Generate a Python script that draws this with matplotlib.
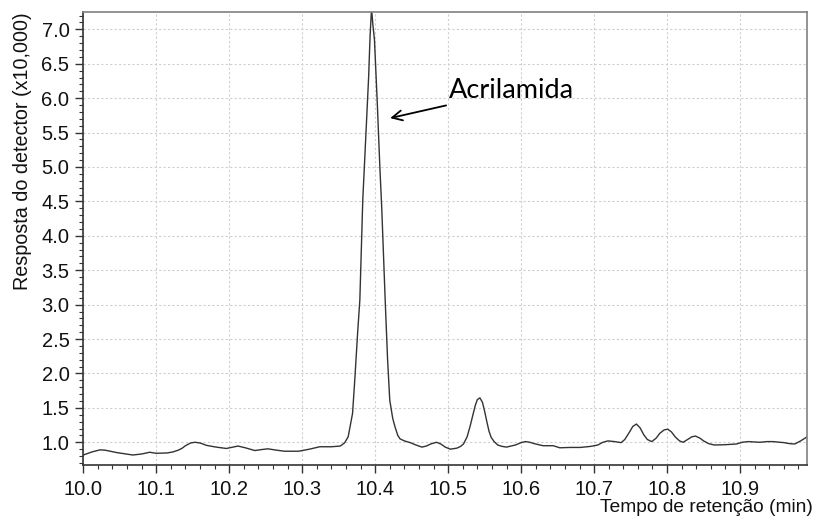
import numpy as np
import matplotlib
matplotlib.use("Agg")
import matplotlib.pyplot as plt
from matplotlib.ticker import MultipleLocator, FormatStrFormatter

# retention time (min) and detector response (x10,000)
tempo = [10.000, 10.012, 10.023, 10.030, 10.046, 10.068, 10.080, 10.091, 10.100, 10.115,
         10.123, 10.130, 10.135, 10.140, 10.147, 10.153, 10.160, 10.169, 10.182, 10.196,
         10.205, 10.212, 10.222, 10.235, 10.245, 10.253, 10.265, 10.276, 10.295, 10.310,
         10.324, 10.340, 10.352, 10.358, 10.363, 10.369, 10.372, 10.376, 10.379, 10.383,
         10.387, 10.391, 10.393, 10.395, 10.397, 10.399, 10.403, 10.4064, 10.409, 10.4137,
         10.417, 10.420, 10.424, 10.427, 10.431, 10.434, 10.440, 10.448, 10.456, 10.464,
         10.470, 10.476, 10.484, 10.490, 10.496, 10.503, 10.512, 10.517, 10.521, 10.526,
         10.530, 10.534, 10.537, 10.540, 10.5435, 10.547, 10.550, 10.553, 10.556, 10.559,
         10.563, 10.568, 10.574, 10.580, 10.592, 10.600, 10.606, 10.612, 10.618, 10.630,
         10.644, 10.653, 10.667, 10.681, 10.695, 10.705, 10.712, 10.719, 10.728, 10.737,
         10.742, 10.748, 10.753, 10.758, 10.763, 10.768, 10.773, 10.779, 10.785, 10.790,
         10.796, 10.801, 10.806, 10.811, 10.817, 10.822, 10.828, 10.834, 10.839, 10.845,
         10.850, 10.857, 10.865, 10.880, 10.895, 10.903, 10.911, 10.927, 10.937, 10.945,
         10.960, 10.968, 10.975, 10.983, 10.992]
resposta = [0.815, 0.86, 0.89, 0.885, 0.85, 0.815, 0.83, 0.855, 0.84, 0.845,
            0.86, 0.885, 0.91, 0.95, 0.99, 1.00, 0.99, 0.955, 0.93, 0.91,
            0.93, 0.945, 0.92, 0.88, 0.895, 0.905, 0.885, 0.87, 0.87, 0.90,
            0.935, 0.935, 0.945, 0.99, 1.08, 1.42, 1.9, 2.6, 3.07, 4.52,
            5.4, 6.3, 6.9, 7.30, 7.05, 6.85, 5.9, 5.0, 4.4, 3.07,
            2.2, 1.61, 1.35, 1.23, 1.10, 1.05, 1.02, 0.995, 0.96, 0.93,
            0.945, 0.975, 1.0, 0.975, 0.93, 0.90, 0.915, 0.94, 0.975, 1.08,
            1.23, 1.40, 1.53, 1.62, 1.645, 1.58, 1.45, 1.30, 1.16, 1.07,
            1.01, 0.96, 0.94, 0.93, 0.96, 0.995, 1.01, 1.0, 0.98, 0.95,
            0.95, 0.92, 0.925, 0.925, 0.94, 0.96, 1.0, 1.02, 1.01, 0.995,
            1.04, 1.14, 1.23, 1.265, 1.21, 1.11, 1.04, 1.01, 1.06, 1.13,
            1.18, 1.19, 1.15, 1.08, 1.02, 1.0, 1.04, 1.08, 1.09, 1.06,
            1.02, 0.98, 0.96, 0.965, 0.975, 1.0, 1.01, 1.0, 1.01, 1.01,
            0.995, 0.98, 0.975, 1.02, 1.08]

label_pico = "Acrilamida"
pico_xy = (10.4205, 5.71)
texto_xy = (10.501, 6.11)

fig = plt.figure(figsize=(8.18, 5.21), dpi=100)
ax = fig.add_axes([0.1018, 0.1075, 0.885, 0.870])

ax.plot(tempo, resposta, color="#333333", lw=1.0)

ax.set_xlim(10.0, 10.992)
ax.set_ylim(0.67, 7.256)

ax.xaxis.set_major_locator(MultipleLocator(0.1))
ax.xaxis.set_minor_locator(MultipleLocator(0.02))
ax.yaxis.set_major_locator(MultipleLocator(0.5))
ax.yaxis.set_minor_locator(MultipleLocator(0.1))
ax.xaxis.set_major_formatter(FormatStrFormatter("%.1f"))
ax.yaxis.set_major_formatter(FormatStrFormatter("%.1f"))

ax.tick_params(which="major", direction="out", length=6, width=1, color="#333333",
               labelsize=14.5, labelcolor="#111111", labelfontfamily="Liberation Sans")
ax.tick_params(axis="y", which="major", pad=4)
ax.tick_params(axis="x", which="major", pad=5)
ax.tick_params(which="minor", direction="out", length=3, width=0.8, color="#333333")

ax.grid(True, which="major", color="#cfcfcf", linestyle=(0, (2, 2)), lw=0.8)

ax.spines["top"].set_color("#808080")
ax.spines["right"].set_color("#808080")
ax.spines["left"].set_color("#333333")
ax.spines["bottom"].set_color("#333333")
for s in ax.spines.values():
    s.set_linewidth(1.2)

fig.text(0.9935, 0.025, "Tempo de retenção (min)", ha="right", va="center",
         fontsize=13.8, family="Liberation Sans", color="#111111")
fig.text(0.028, 0.71, "Resposta do detector (x10,000)", ha="center", va="center",
         rotation=90, fontsize=14.2, family="Liberation Sans", color="#111111")

ax.annotate(label_pico, xy=pico_xy, xytext=texto_xy, fontsize=19.5, family="Lato",
            va="center", ha="left",
            arrowprops=dict(arrowstyle="->", color="black", lw=1.3, mutation_scale=18,
                            shrinkA=0, shrinkB=0))

fig.savefig("out.png", dpi=100)
